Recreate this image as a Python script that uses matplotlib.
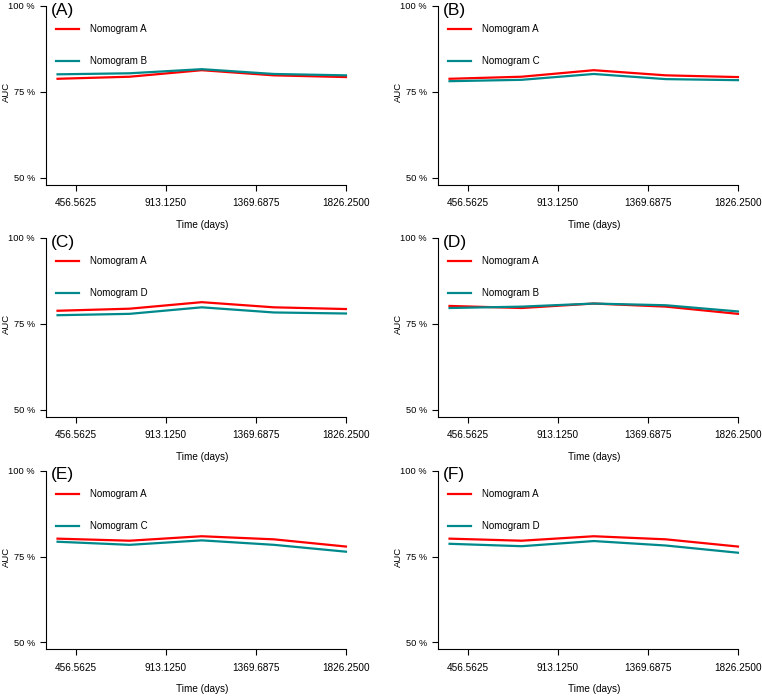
import matplotlib
matplotlib.use("Agg")
import matplotlib.pyplot as plt

plt.rcParams['font.family'] = ['Liberation Sans', 'DejaVu Sans']

# ---- data ----
times = [365.25, 730.5, 1095.75, 1461.0, 1826.25]
xticks = [456.5625, 913.1250, 1369.6875, 1826.2500]
xtick_labels = ["456.5625", "913.1250", "1369.6875", "1826.2500"]
yticks = [50, 75, 100]
ytick_labels = ["50 %", "75 %", "100 %"]

# cohort 1 (panels A-C)
nomA_1 = [78.8, 79.4, 81.3, 79.8, 79.3]
nomB_1 = [80.1, 80.4, 81.6, 80.2, 79.8]
nomC_1 = [78.1, 78.5, 80.2, 78.7, 78.4]
nomD_1 = [77.5, 77.9, 79.8, 78.3, 78.0]
# cohort 2 (panels D-F)
nomA_2 = [80.2, 79.6, 80.9, 80.0, 77.9]
nomB_2 = [79.6, 80.0, 80.9, 80.4, 78.6]
nomC_2 = [79.3, 78.4, 79.7, 78.4, 76.4]
nomD_2 = [78.7, 78.0, 79.5, 78.2, 76.1]

panels = [
    ("(A)", nomA_1, nomB_1, "Nomogram A", "Nomogram B"),
    ("(B)", nomA_1, nomC_1, "Nomogram A", "Nomogram C"),
    ("(C)", nomA_1, nomD_1, "Nomogram A", "Nomogram D"),
    ("(D)", nomA_2, nomB_2, "Nomogram A", "Nomogram B"),
    ("(E)", nomA_2, nomC_2, "Nomogram A", "Nomogram C"),
    ("(F)", nomA_2, nomD_2, "Nomogram A", "Nomogram D"),
]

RED = "#FF0000"
TEAL = "#00898B"

W, H = 762, 696
fig = plt.figure(figsize=(W / 100, H / 100), dpi=100)

col_left = [46, 438]
row_top = [-0.87, 231.1, 463.8]
aw, ah = 311.5, 185.4

xlo, xhi = 306.8, 1884.7
ylo, yhi = 48, 102

for i, (lab, s1, s2, n1, n2) in enumerate(panels):
    r, c = divmod(i, 2)
    left = col_left[c]
    top = row_top[r]
    ax = fig.add_axes([left / W, 1 - (top + ah) / H, aw / W, ah / H])
    ax.plot(times, s1, color=RED, lw=1.6, clip_on=False, solid_joinstyle='round')
    ax.plot(times, s2, color=TEAL, lw=1.6, clip_on=False, solid_joinstyle='round')
    ax.set_xlim(xlo, xhi)
    ax.set_ylim(ylo, yhi)
    for sp in ['top', 'right']:
        ax.spines[sp].set_visible(False)
    ax.spines['left'].set_bounds(ylo, 100)
    ax.spines['bottom'].set_bounds(xlo, 1826.25)
    for sp in ['left', 'bottom']:
        ax.spines[sp].set_linewidth(0.8)
    ax.set_xticks(xticks)
    ax.set_xticklabels(xtick_labels)
    ax.set_yticks(yticks)
    ax.set_yticklabels(ytick_labels)
    ax.tick_params(axis='x', length=4.6, width=0.8, pad=5, labelsize=7.2)
    ax.tick_params(axis='y', length=4.0, width=0.8, pad=4, labelsize=6.7)
    ax.set_xlabel("Time (days)", fontsize=7.2, va='top')
    ax.xaxis.set_label_coords(0.5, -35.0 / ah)
    ax.set_ylabel("AUC", fontsize=6.8)
    ax.yaxis.set_label_coords(-35.5 / aw, 0.5)
    # legend (manual, R style)
    for k, (col, name) in enumerate([(RED, n1), (TEAL, n2)]):
        yf = [0.839, 0.665][k]
        ax.plot([0.032, 0.106], [yf, yf], color=col, lw=1.6, transform=ax.transAxes)
        ax.text(0.14, yf, name, transform=ax.transAxes, fontsize=7.0, va='center', ha='left')
    ax.text(0.015, 0.941, lab, transform=ax.transAxes, fontsize=12.5, va='center', ha='left')

fig.savefig("out.png", dpi=100)
